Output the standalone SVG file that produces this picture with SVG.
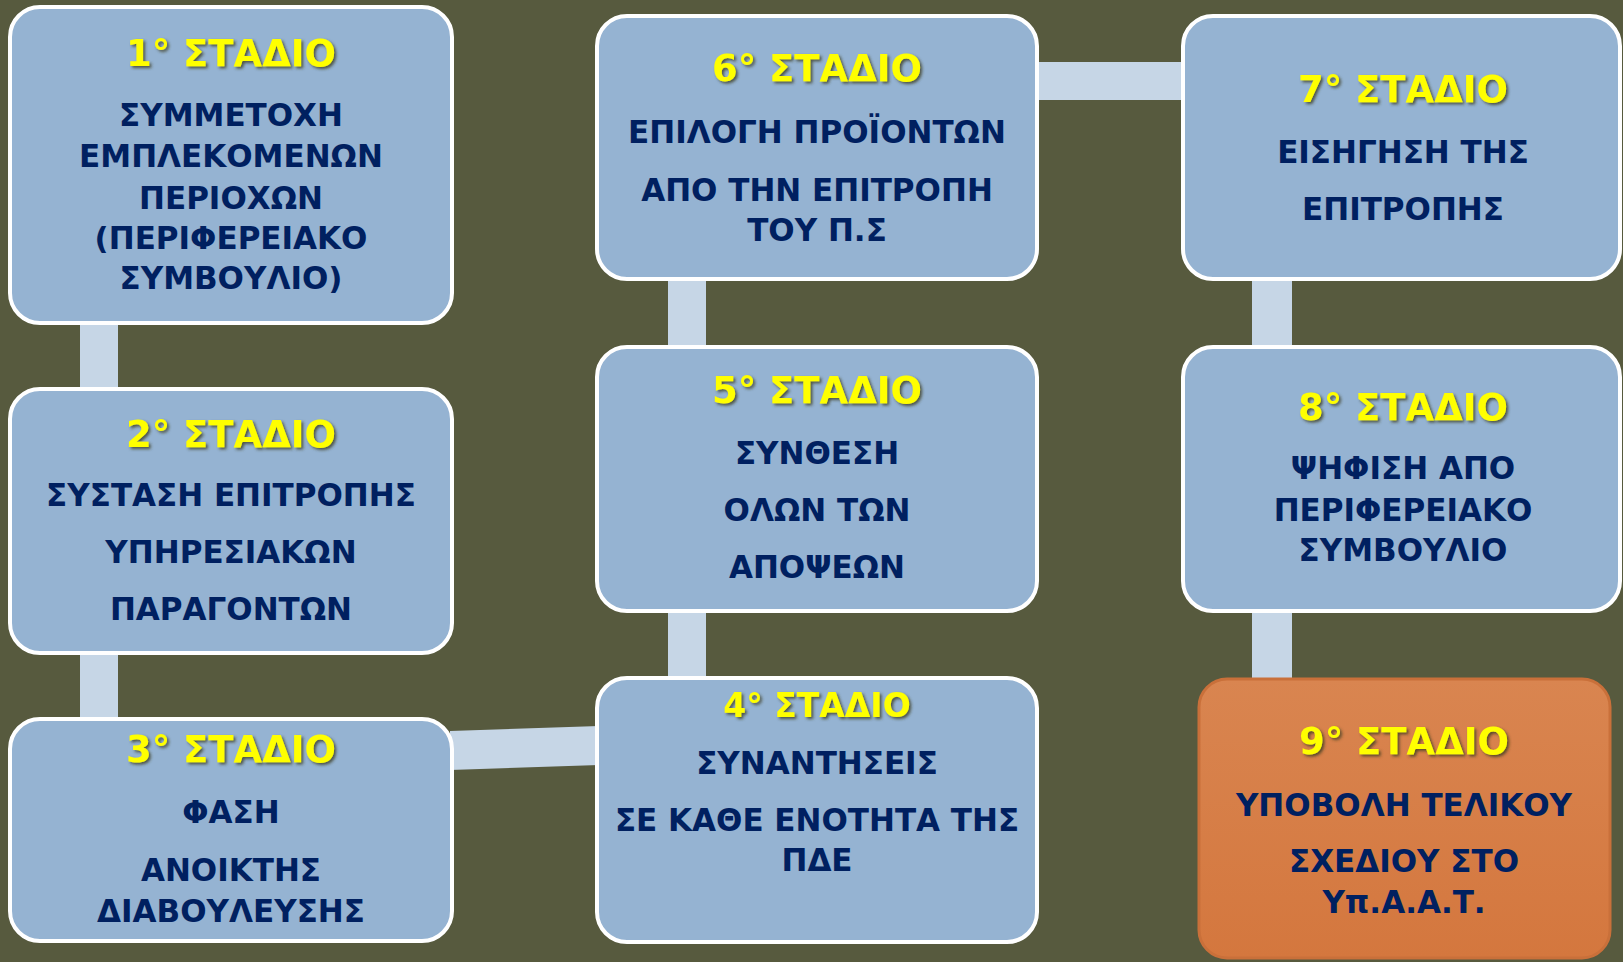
<svg xmlns="http://www.w3.org/2000/svg" width="1623" height="962" viewBox="0 0 1623 962">
<defs>
<filter id="sh" x="-10%" y="-20%" width="130%" height="150%">
<feDropShadow dx="2" dy="2" stdDeviation="1.5" flood-color="#3a3a20" flood-opacity="0.8"/>
</filter>
<linearGradient id="og" x1="0" y1="0" x2="0" y2="1">
<stop offset="0" stop-color="#D98550"/>
<stop offset="1" stop-color="#D4773E"/>
</linearGradient>
</defs>
<style>
.box{fill:#95B3D2;stroke:#FFFFFF;stroke-width:4}
.obox{fill:url(#og);stroke:#C9703A;stroke-width:3}
.con{fill:#C6D6E6}
.t{font-family:"DejaVu Sans","Liberation Sans",sans-serif;font-weight:bold;font-size:37px;fill:#FFFF00;text-anchor:middle;filter:url(#sh)}
.b{font-family:"DejaVu Sans","Liberation Sans",sans-serif;font-weight:bold;font-size:31px;fill:#002060;text-anchor:middle}
</style>
<rect x="0" y="0" width="1623" height="962" fill="#575A3E"/>
<g id="connectors">
<rect class="con" x="80" y="320" width="38" height="72"/>
<rect class="con" x="80" y="650" width="38" height="72"/>
<polygon class="con" points="450,731 599,726 599,765 450,770"/>
<rect class="con" x="668" y="608" width="38" height="73"/>
<rect class="con" x="668" y="276" width="38" height="74"/>
<rect class="con" x="1034" y="62" width="152" height="38"/>
<rect class="con" x="1252" y="276" width="40" height="74"/>
<rect class="con" x="1252" y="608" width="40" height="74"/>
</g>
<g id="node1">
<rect class="box" x="10" y="7" width="442" height="316" rx="30"/>
<text class="t" x="231" y="66">1° ΣΤΑΔΙΟ</text>
<text class="b" x="231" y="126">ΣΥΜΜΕΤΟΧΗ</text>
<text class="b" x="231" y="167">ΕΜΠΛΕΚΟΜΕΝΩΝ</text>
<text class="b" x="231" y="209">ΠΕΡΙΟΧΩΝ</text>
<text class="b" x="231" y="249">(ΠΕΡΙΦΕΡΕΙΑΚΟ</text>
<text class="b" x="231" y="289">ΣΥΜΒΟΥΛΙΟ)</text>
</g>
<g id="node2">
<rect class="box" x="10" y="389" width="442" height="264" rx="30"/>
<text class="t" x="231" y="447">2° ΣΤΑΔΙΟ</text>
<text class="b" x="231" y="506">ΣΥΣΤΑΣΗ ΕΠΙΤΡΟΠΗΣ</text>
<text class="b" x="231" y="563">ΥΠΗΡΕΣΙΑΚΩΝ</text>
<text class="b" x="231" y="620">ΠΑΡΑΓΟΝΤΩΝ</text>
</g>
<g id="node3">
<rect class="box" x="10" y="719" width="442" height="222" rx="30"/>
<text class="t" x="231" y="762">3° ΣΤΑΔΙΟ</text>
<text class="b" x="231" y="823">ΦΑΣΗ</text>
<text class="b" x="231" y="881">ΑΝΟΙΚΤΗΣ</text>
<text class="b" x="231" y="922">ΔΙΑΒΟΥΛΕΥΣΗΣ</text>
</g>
<g id="node4">
<rect class="box" x="597" y="678" width="440" height="264" rx="30"/>
<text class="t" x="817" y="717" style="font-size:33px">4° ΣΤΑΔΙΟ</text>
<text class="b" x="817" y="774">ΣΥΝΑΝΤΗΣΕΙΣ</text>
<text class="b" x="817" y="831">ΣΕ ΚΑΘΕ ΕΝΟΤΗΤΑ ΤΗΣ</text>
<text class="b" x="817" y="871">ΠΔΕ</text>
</g>
<g id="node5">
<rect class="box" x="597" y="347" width="440" height="264" rx="30"/>
<text class="t" x="817" y="403">5° ΣΤΑΔΙΟ</text>
<text class="b" x="817" y="464">ΣΥΝΘΕΣΗ</text>
<text class="b" x="817" y="521">ΟΛΩΝ ΤΩΝ</text>
<text class="b" x="817" y="578">ΑΠΟΨΕΩΝ</text>
</g>
<g id="node6">
<rect class="box" x="597" y="16" width="440" height="263" rx="30"/>
<text class="t" x="817" y="81">6° ΣΤΑΔΙΟ</text>
<text class="b" x="817" y="143">ΕΠΙΛΟΓΗ ΠΡΟΪΟΝΤΩΝ</text>
<text class="b" x="817" y="201">ΑΠΟ ΤΗΝ ΕΠΙΤΡΟΠΗ</text>
<text class="b" x="817" y="241">ΤΟΥ Π.Σ</text>
</g>
<g id="node7">
<rect class="box" x="1183" y="16" width="437" height="263" rx="30"/>
<text class="t" x="1403" y="102">7° ΣΤΑΔΙΟ</text>
<text class="b" x="1403" y="163">ΕΙΣΗΓΗΣΗ ΤΗΣ</text>
<text class="b" x="1403" y="220">ΕΠΙΤΡΟΠΗΣ</text>
</g>
<g id="node8">
<rect class="box" x="1183" y="347" width="437" height="264" rx="30"/>
<text class="t" x="1403" y="420">8° ΣΤΑΔΙΟ</text>
<text class="b" x="1403" y="479">ΨΗΦΙΣΗ ΑΠΟ</text>
<text class="b" x="1403" y="521">ΠΕΡΙΦΕΡΕΙΑΚΟ</text>
<text class="b" x="1403" y="561">ΣΥΜΒΟΥΛΙΟ</text>
</g>
<g id="node9">
<rect class="obox" x="1199" y="679" width="411" height="279" rx="28"/>
<text class="t" x="1404" y="754">9° ΣΤΑΔΙΟ</text>
<text class="b" x="1404" y="816">ΥΠΟΒΟΛΗ ΤΕΛΙΚΟΥ</text>
<text class="b" x="1404" y="872">ΣΧΕΔΙΟΥ ΣΤΟ</text>
<text class="b" x="1404" y="913">Υπ.Α.Α.Τ.</text>
</g>
</svg>
